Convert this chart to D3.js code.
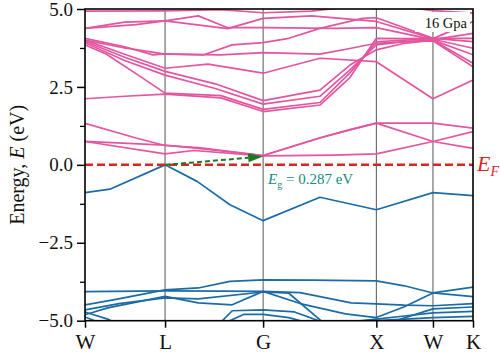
<!DOCTYPE html>
<html><head><meta charset="utf-8">
<script src="https://cdn.jsdelivr.net/npm/d3@7"></script>
<style>html,body{margin:0;padding:0;background:#fff;}svg{display:block;}svg text{font-family:"Liberation Serif","Times New Roman",serif;}</style>
</head><body>
<script>
// ---- data ----
const kPoints = [0, 0.7071, 1.5731, 2.5731, 3.0731, 3.4267];
const kLabels = ["W", "L", "G", "X", "W", "K"];
const yTicks = [-5, -2.5, 0, 2.5, 5];
const yMinorTicks = [-3.75, -1.25, 1.25, 3.75];
const gapValue = 0.287;
const pressureLabel = "16 Gpa";

// conduction bands: [k, E]
const conductionBands = [
  [[0,0.75],[0.707,0.35],[0.96,0.46],[1.573,0.287],[2.2,0.31],[2.573,0.35],[3.073,0.75],[3.427,1.07]],
  [[0,0.75],[0.707,0.63],[1.0,0.53],[1.573,0.30],[2.075,0.86],[2.34,1.12],[2.573,1.34],[3.073,1.34],[3.427,1.18]],
  [[0,1.33],[0.45,0.86],[0.707,0.62],[1.0,0.55],[1.573,0.30],[2.075,0.87],[2.34,1.13],[2.573,1.34],[3.073,0.75],[3.427,0.53]],
  [[0,4.93],[0.707,4.94],[1.2,4.98],[1.573,4.88],[2.0,4.93],[2.4,5.1]],
  [[2.75,5.1],[3.073,4.95],[3.427,4.87]],
  [[0,4.38],[0.35,4.58],[0.707,4.62],[1.26,4.37],[1.573,4.7],[2.0,4.78],[2.573,4.6],[3.073,4.05],[3.427,4.6]],
  [[0,4.38],[0.45,4.5],[0.707,4.62],[1.0,4.78],[1.26,4.4],[1.573,4.4],[2.2,4.38],[2.573,4.4],[3.073,4.02],[3.427,4.22]],
  [[0,4.06],[0.35,3.79],[0.6,3.53],[0.707,3.56],[1.05,3.53],[1.3,3.85],[1.573,3.92],[1.8,4.06],[2.075,4.38],[2.45,4.7],[2.573,4.72],[2.82,4.4],[3.073,4.06],[3.427,4.06]],
  [[0,4.0],[0.35,3.75],[0.707,3.55],[1.2,3.53],[1.573,3.6],[2.075,3.55],[2.35,3.74],[2.573,3.9],[3.073,4.0],[3.427,3.26]],
  [[0,4.0],[0.35,3.55],[0.707,3.1],[1.086,3.23],[1.573,2.94],[2.075,3.42],[2.573,3.31],[3.073,2.12],[3.427,2.72]],
  [[0,3.96],[0.35,3.45],[0.707,3.0],[1.15,2.6],[1.573,2.06],[2.075,2.4],[2.34,3.2],[2.573,3.69],[2.82,3.9],[3.073,4.0],[3.427,3.53]],
  [[0,3.92],[0.35,3.35],[0.707,2.88],[1.15,2.45],[1.573,1.95],[2.075,2.2],[2.34,3.05],[2.573,3.85],[2.82,3.95],[3.073,3.98],[3.427,3.15]],
  [[0,2.12],[0.35,2.2],[0.707,2.27],[1.2,2.15],[1.573,1.71],[2.075,1.92],[2.34,2.8],[2.573,4.06],[2.82,4.05],[3.073,4.06],[3.427,3.95]],
  [[0,3.85],[0.19,3.55],[0.49,2.83],[0.707,2.3],[1.2,2.22],[1.573,1.78],[2.075,2.0],[2.34,2.95],[2.573,3.95],[2.82,4.0],[3.073,4.03],[3.427,3.74]]
];

// valence bands: [k, E]
const valenceBands = [
  [[0,-0.89],[0.22,-0.78],[0.707,0],[0.99,-0.53],[1.28,-1.28],[1.573,-1.79],[2.075,-1.04],[2.573,-1.44],[3.073,-0.89],[3.427,-0.99]],
  [[0,-4.49],[0.25,-4.33],[0.707,-4.01],[1.0,-3.95],[1.28,-3.74],[1.573,-3.69],[2.0,-3.7],[2.573,-3.72],[2.82,-3.88],[3.073,-4.11],[3.427,-4.23]],
  [[0,-4.07],[0.707,-4.04],[1.2,-4.05],[1.573,-4.06],[1.9,-4.1],[2.35,-4.43],[2.573,-4.46],[2.82,-4.5],[3.073,-4.52],[3.427,-4.45]],
  [[0,-4.81],[0.2,-4.59],[0.707,-4.22],[1.0,-4.43],[1.3,-4.49],[1.573,-4.06],[1.9,-4.45],[2.3,-4.78],[2.573,-4.9],[2.82,-4.55],[3.073,-4.11],[3.427,-3.92]],
  [[0,-4.65],[0.3,-4.45],[0.707,-4.27],[1.0,-4.3],[1.573,-4.08],[1.8,-4.12],[2.1,-5.05]],
  [[1.2,-5.05],[1.3,-4.68],[1.573,-4.65],[1.85,-4.72],[2.1,-5.05]],
  [[1.25,-5.05],[1.4,-4.8],[1.573,-4.8],[1.8,-4.9],[1.95,-5.05]],
  [[0,-4.72],[0.2,-4.95],[0.26,-5.05]],
  [[0,-4.88],[0.12,-5.05]],
  [[2.3,-5.05],[2.573,-4.95],[2.82,-4.85],[3.073,-4.75],[3.427,-4.7]],
  [[2.45,-5.05],[2.573,-5.0],[3.073,-4.9],[3.427,-4.86]],
  [[2.7,-5.05],[3.073,-4.62],[3.427,-4.56]]
];

// ---- drawing ----
const W = 500, H = 358;
const m = {left: 85, right: 473, top: 9, bottom: 320.7};
const svg = d3.select("body").append("svg").attr("width", W).attr("height", H);

const x = d3.scaleLinear().domain([kPoints[0], kPoints[kPoints.length-1]]).range([m.left, m.right]);
const y = d3.scaleLinear().domain([-5, 5]).range([m.bottom, m.top]);

svg.append("defs").append("clipPath").attr("id", "clip")
  .append("rect").attr("x", m.left).attr("y", m.top)
  .attr("width", m.right - m.left).attr("height", m.bottom - m.top);

const plot = svg.append("g").attr("clip-path", "url(#clip)");

// vertical high-symmetry lines
plot.selectAll("line.vk").data(kPoints.slice(1, -1)).join("line")
  .attr("x1", d => x(d)).attr("x2", d => x(d))
  .attr("y1", m.top).attr("y2", m.bottom)
  .attr("stroke", "#555").attr("stroke-width", 1);

const line = d3.line().x(d => x(d[0])).y(d => y(d[1]));

plot.selectAll("path.cb").data(conductionBands).join("path")
  .attr("d", line).attr("fill", "none")
  .attr("stroke", "#e4559f").attr("stroke-width", 1.7).attr("stroke-linejoin", "round");

plot.selectAll("path.vb").data(valenceBands).join("path")
  .attr("d", line).attr("fill", "none")
  .attr("stroke", "#1b6ca6").attr("stroke-width", 1.7).attr("stroke-linejoin", "round");

// Fermi level
svg.append("line")
  .attr("x1", m.left).attr("x2", m.right).attr("y1", y(0)).attr("y2", y(0))
  .attr("stroke", "#d3261f").attr("stroke-width", 2.5).attr("stroke-dasharray", "8,4");

// gap arrow
const ax1 = x(kPoints[1]), ay1 = y(0), ax2 = x(kPoints[2]), ay2 = y(gapValue - 0.02);
const ang = Math.atan2(ay2 - ay1, ax2 - ax1);
const headL = 15, headW = 4.5;
const bx = ax2 - headL * Math.cos(ang), by = ay2 - headL * Math.sin(ang);
svg.append("line").attr("x1", ax1).attr("y1", ay1).attr("x2", bx).attr("y2", by)
  .attr("stroke", "#1d7a22").attr("stroke-width", 2).attr("stroke-dasharray", "5,3");
svg.append("polygon")
  .attr("points", [[ax2, ay2],
    [bx + headW * Math.sin(ang), by - headW * Math.cos(ang)],
    [bx - headW * Math.sin(ang), by + headW * Math.cos(ang)]].map(p => p.join(",")).join(" "))
  .attr("fill", "#1d7a22");

// gap label
const eg = svg.append("text").attr("x", 268).attr("y", 184)
  .attr("fill", "#198a80").attr("font-size", 15);
eg.append("tspan").attr("font-style", "italic").text("E");
eg.append("tspan").attr("font-size", 10).attr("dy", 4).text("g");
eg.append("tspan").attr("dy", -4).text(" = " + gapValue.toFixed(3) + " eV");

// E_F label
const ef = svg.append("text").attr("x", 477).attr("y", 171)
  .attr("fill", "#e3221c").attr("font-size", 22).attr("font-style", "italic");
ef.append("tspan").text("E");
ef.append("tspan").attr("font-size", 14).attr("dy", 5).text("F");

// pressure label
svg.append("rect").attr("x", 415).attr("y", 12).attr("width", 55).attr("height", 20).attr("fill", "#fff");
svg.append("text").attr("x", 467).attr("y", 28).attr("text-anchor", "end")
  .attr("font-size", 14.5).attr("fill", "#111").text(pressureLabel);

// frame
svg.append("rect").attr("x", m.left).attr("y", m.top)
  .attr("width", m.right - m.left).attr("height", m.bottom - m.top)
  .attr("fill", "none").attr("stroke", "#000").attr("stroke-width", 1.6);

// axes
const yAxis = d3.axisLeft(y).tickValues(yTicks).tickSize(8).tickPadding(4)
  .tickFormat(d3.format(".1f"));
const gy = svg.append("g").attr("transform", `translate(${m.left},0)`).call(yAxis);
gy.attr("font-family", null);
gy.select(".domain").remove();
gy.selectAll("line").attr("stroke", "#000").attr("stroke-width", 1.5);
gy.selectAll("text").attr("font-size", 19).attr("fill", "#111");

const gym = svg.append("g").attr("transform", `translate(${m.left},0)`)
  .call(d3.axisLeft(y).tickValues(yMinorTicks).tickSize(5).tickFormat(""));
gym.select(".domain").remove();
gym.selectAll("line").attr("stroke", "#000").attr("stroke-width", 1.3);

const xAxis = d3.axisBottom(x).tickValues(kPoints).tickSize(7).tickPadding(6)
  .tickFormat((d, i) => kLabels[i]);
const gx = svg.append("g").attr("transform", `translate(0,${m.bottom})`).call(xAxis);
gx.attr("font-family", null);
gx.select(".domain").remove();
gx.selectAll("line").attr("stroke", "#000").attr("stroke-width", 1.5);
gx.selectAll("text").attr("font-size", 21).attr("fill", "#111");

// y axis title
const yt = svg.append("text").attr("transform", `translate(24,${y(0)}) rotate(-90)`)
  .attr("text-anchor", "middle").attr("font-size", 20).attr("fill", "#111");
yt.append("tspan").text("Energy, ");
yt.append("tspan").attr("font-style", "italic").text("E");
yt.append("tspan").text(" (eV)");
</script>
</body></html>
